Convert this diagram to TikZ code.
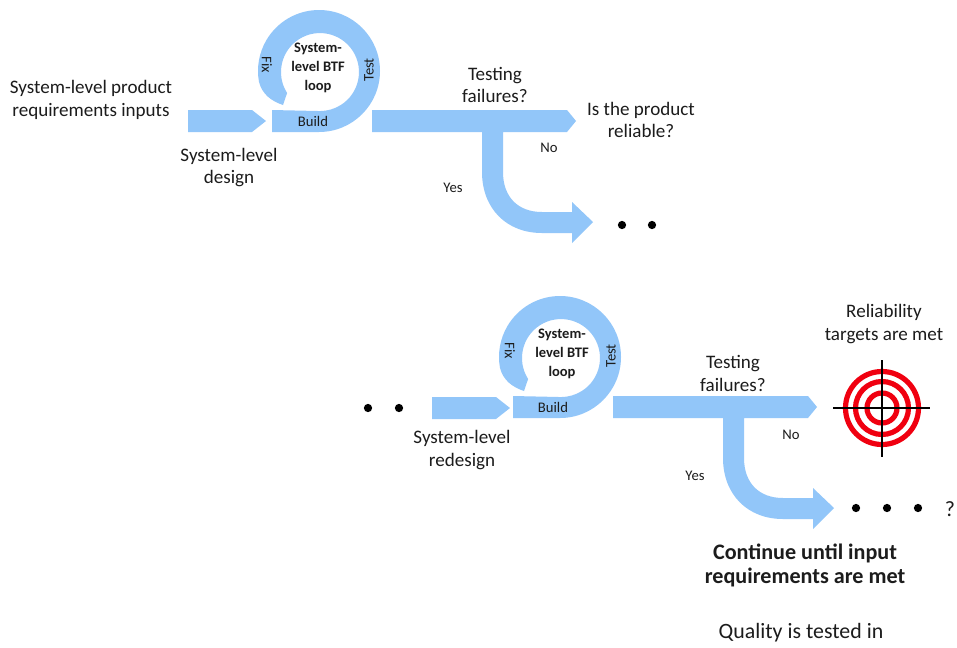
\documentclass[tikz,border=0pt]{standalone}
\usepackage{fontspec}
\setmainfont{Carlito}
\definecolor{flow}{HTML}{92C6F9}
\definecolor{ink}{HTML}{1C1C1C}
\definecolor{ringred}{HTML}{F00010}
\newcommand{\lbl}[1]{\fontsize{#1}{16.9}\selectfont}
\tikzset{
  x=0.75pt,y=-0.75pt,
  flowshape/.style={fill=flow,draw=none},
  txt/.style={text=ink,align=center,inner sep=0pt,yshift=-0.75pt,font=\lbl{14.3}},
  quality/.style={text=ink,align=center,inner sep=0pt,yshift=-0.75pt,font=\lbl{16.4}},
  small/.style={text=ink,inner sep=0pt,font=\lbl{11}},
  looptxt/.style={text=ink,align=center,inner sep=0pt,font=\fontsize{10.9}{14.2}\selectfont\bfseries},
  bigtxt/.style={text=ink,align=center,inner sep=0pt,yshift=-0.75pt,font=\fontsize{16.6}{18.6}\selectfont\bfseries},
  bullet/.style={circle,fill=black,inner sep=0pt,minimum size=6.2pt},
  ringline/.style={draw=ringred,line width=3.9pt},
  crossline/.style={draw=black,line width=0.8pt}
}
\newcommand{\feedback}{%
  \fill[flowshape] (272,110) -- (272,132) -- (319,132)
    arc[start angle=90,end angle=-190,radius=61]
    .. controls (262,94) and (271,101) .. (283,105)
    -- (287.1,93)
    arc[start angle=-212.5,end angle=90,radius=39] -- cycle;
  \fill[flowshape] (372,110) -- (567,110) -- (576,121) -- (567,132) -- (503,132) -- (503,172)
    .. controls (503,197) and (518,212) .. (542,212)
    -- (572,212) -- (572,202) -- (593,222) -- (572,243) -- (572,233) -- (542,233)
    .. controls (506,233) and (482,208) .. (482,172)
    -- (482,132) -- (372,132) -- cycle;
}
\begin{document}
\begin{tikzpicture}
\useasboundingbox (0,0) rectangle (957,647);
\fill[white] (0,0) rectangle (957,647);
\fill[flowshape] (188,110) -- (252,110) -- (266,121) -- (252,132) -- (188,132) -- cycle;
\fill[flowshape] (432,397) -- (496,397) -- (510,408) -- (496,419) -- (432,419) -- cycle;
\begin{scope}\feedback\end{scope}
\begin{scope}[shift={(241,286)}]\feedback\end{scope}
\node[looptxt] (la) at (318,68) {System-\\level BTF\\loop};
\node[small,rotate=-90] (fa) at (267,65) {Fix};
\node[small,rotate=90] (ta) at (369,70) {Test};
\node[small] (ba) at (313,121) {Build};
\node[looptxt] (lb) at (562,354) {System-\\level BTF\\loop};
\node[small,rotate=-90] (fb) at (510,351) {Fix};
\node[small,rotate=90] (tb) at (611,356) {Test};
\node[small] (bb) at (553,407) {Build};
\node[txt] (req) at (91,99) {System-level product\\requirements inputs};
\node[txt] (des) at (229,166.5) {System-level\\design};
\node[txt] (tfa) at (495,84) {Testing\\failures?};
\node[txt] (rel) at (641,119) {Is the product\\reliable?};
\node[small] (noa) at (549,148) {No};
\node[small] (yesa) at (453,188) {Yes};
\node[txt] (red) at (462,449) {System-level\\redesign};
\node[txt] (tfb) at (733,372.5) {Testing\\failures?};
\node[small] (nob) at (791,435) {No};
\node[small] (yesb) at (695,476) {Yes};
\node[txt] (tar) at (884,323) {Reliability\\targets are met};
\node[bigtxt] (cont) at (805,564.5) {Continue until input\\requirements are met};
\node[quality] (qual) at (801,632) {Quality is tested in};
\node[quality] (q) at (950,508) {?};
\node[bullet] (d1) at (622,225) {};
\node[bullet] (d2) at (652,225) {};
\node[bullet] (d3) at (368,408) {};
\node[bullet] (d4) at (399,408) {};
\node[bullet] (d5) at (856,508) {};
\node[bullet] (d6) at (887,508) {};
\node[bullet] (d7) at (918,508) {};
\coordinate (tc) at (882,408);
\draw[ringline] (tc) circle[radius=36.5];
\draw[ringline] (tc) circle[radius=26.5];
\draw[ringline] (tc) circle[radius=15];
\draw[crossline] (833,408) -- (930,408);
\draw[crossline] (882,360) -- (882,457);
\end{tikzpicture}
\end{document}
